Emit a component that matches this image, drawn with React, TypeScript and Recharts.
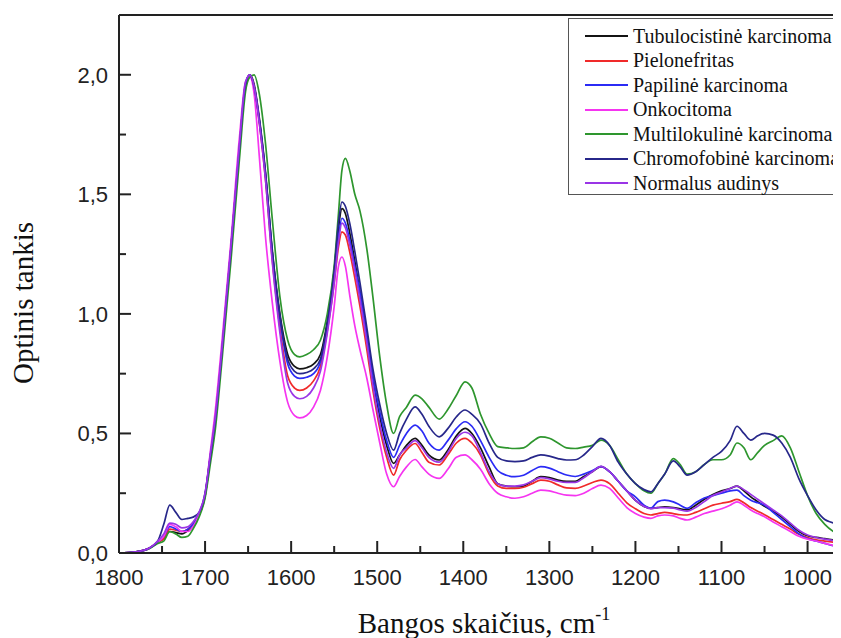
import React from 'react';
import { LineChart, Line, XAxis, YAxis, Legend, ReferenceLine, Label } from 'recharts';

// wavenumber grid, cm-1 (x axis runs from 1800 down to ~960)
const WAVENUMBER = [
  1800, 1780, 1765, 1755, 1748, 1741, 1734, 1727, 1720, 1714,
  1707, 1700, 1694, 1688, 1680, 1670, 1660, 1653, 1648, 1643,
  1637, 1630, 1622, 1613, 1604, 1596, 1590, 1582, 1574, 1566,
  1558, 1550, 1545, 1541, 1537, 1532, 1526, 1520, 1512, 1505,
  1497, 1489, 1481, 1474, 1466, 1456, 1448, 1440, 1428, 1418,
  1408, 1398, 1390, 1380, 1370, 1360, 1350, 1340, 1330, 1320,
  1310, 1300, 1290, 1280, 1270, 1260, 1250, 1240, 1230, 1220,
  1210, 1200, 1190, 1182, 1174, 1166, 1156, 1148, 1140, 1130,
  1120, 1110, 1100, 1090, 1082, 1074, 1066, 1058, 1050, 1040,
  1030, 1020, 1010, 1000, 990, 980, 970, 960,
];

const TUBULOCISTINE = [
  0, 0.005, 0.02, 0.045, 0.06, 0.09, 0.085, 0.08, 0.095, 0.12,
  0.16, 0.24, 0.40, 0.56, 0.86, 1.27, 1.70, 1.96, 2.0, 1.96,
  1.82, 1.60, 1.27, 1.0, 0.83, 0.78, 0.77, 0.775, 0.79, 0.83,
  0.97, 1.18, 1.36, 1.44, 1.42, 1.34, 1.22, 1.09, 0.91, 0.73,
  0.57, 0.45, 0.375, 0.41, 0.45, 0.479, 0.45, 0.41, 0.389, 0.43,
  0.49, 0.521, 0.50, 0.44, 0.36, 0.29, 0.28, 0.277, 0.28, 0.30,
  0.319, 0.315, 0.305, 0.30, 0.30, 0.32, 0.34, 0.361, 0.34, 0.30,
  0.26, 0.22, 0.195, 0.187, 0.19, 0.193, 0.19, 0.185, 0.18, 0.20,
  0.225, 0.245, 0.26, 0.27, 0.28, 0.26, 0.235, 0.215, 0.195, 0.175,
  0.15, 0.12, 0.09, 0.072, 0.065, 0.06, 0.055, 0.05,
];

const PIELONEFRITAS = [
  0, 0.005, 0.02, 0.045, 0.06, 0.10, 0.095, 0.09, 0.10, 0.12,
  0.16, 0.24, 0.40, 0.56, 0.86, 1.27, 1.70, 1.96, 2.0, 1.95,
  1.80, 1.57, 1.23, 0.94, 0.74, 0.69, 0.68, 0.69, 0.72, 0.78,
  0.93, 1.13, 1.28, 1.343, 1.33, 1.26, 1.15, 1.03, 0.85, 0.68,
  0.52, 0.40, 0.326, 0.39, 0.43, 0.458, 0.42, 0.38, 0.368, 0.41,
  0.46, 0.479, 0.46, 0.41, 0.33, 0.28, 0.27, 0.27, 0.275, 0.29,
  0.305, 0.30, 0.285, 0.272, 0.27, 0.28, 0.295, 0.305, 0.29, 0.25,
  0.21, 0.185, 0.165, 0.159, 0.165, 0.17, 0.165, 0.16, 0.159, 0.17,
  0.185, 0.2, 0.208, 0.215, 0.224, 0.21, 0.19, 0.175, 0.16, 0.14,
  0.12, 0.1, 0.078, 0.065, 0.055, 0.05, 0.045, 0.04,
];

const PAPILINE = [
  0, 0.005, 0.02, 0.045, 0.07, 0.11, 0.10, 0.09, 0.10, 0.12,
  0.16, 0.24, 0.40, 0.56, 0.86, 1.27, 1.70, 1.96, 2.0, 1.95,
  1.81, 1.59, 1.26, 0.98, 0.79, 0.74, 0.73, 0.735, 0.75, 0.80,
  0.95, 1.16, 1.32, 1.40, 1.38, 1.31, 1.20, 1.09, 0.91, 0.74,
  0.59, 0.47, 0.40, 0.45, 0.50, 0.535, 0.51, 0.46, 0.43, 0.47,
  0.52, 0.549, 0.53, 0.47, 0.40, 0.345, 0.325, 0.319, 0.325, 0.345,
  0.361, 0.355, 0.34, 0.326, 0.32, 0.33, 0.345, 0.361, 0.34, 0.30,
  0.26, 0.235, 0.20, 0.187, 0.215, 0.221, 0.214, 0.20, 0.187, 0.21,
  0.23, 0.24, 0.25, 0.26, 0.263, 0.24, 0.221, 0.21, 0.20, 0.17,
  0.14, 0.11, 0.08, 0.06, 0.05, 0.04, 0.03, 0.025,
];

const ONKOCITOMA = [
  0, 0.005, 0.02, 0.045, 0.07, 0.12, 0.11, 0.09, 0.09, 0.11,
  0.16, 0.24, 0.42, 0.60, 0.90, 1.30, 1.74, 1.97, 1.99, 1.92,
  1.66, 1.33, 1.05, 0.80, 0.63, 0.575, 0.565, 0.575, 0.61, 0.68,
  0.82, 1.03, 1.20, 1.238, 1.20, 1.08, 0.95, 0.85, 0.73, 0.60,
  0.46, 0.33, 0.277, 0.32, 0.36, 0.391, 0.36, 0.33, 0.312, 0.35,
  0.40, 0.41, 0.39, 0.35, 0.29, 0.25, 0.235, 0.229, 0.235, 0.25,
  0.263, 0.26, 0.25, 0.242, 0.24, 0.25, 0.27, 0.284, 0.27, 0.23,
  0.19, 0.165, 0.15, 0.145, 0.155, 0.159, 0.155, 0.145, 0.138, 0.15,
  0.165, 0.175, 0.185, 0.2, 0.214, 0.2, 0.18, 0.165, 0.152, 0.13,
  0.11, 0.09, 0.07, 0.058, 0.05, 0.04, 0.032, 0.026,
];

const MULTILOKULINE = [
  0, 0.005, 0.018, 0.04, 0.05, 0.09, 0.08, 0.065, 0.07, 0.10,
  0.15, 0.23, 0.37, 0.52, 0.82, 1.22, 1.65, 1.93, 1.99, 2.0,
  1.92, 1.72, 1.40, 1.07, 0.89, 0.83, 0.82, 0.83, 0.85, 0.89,
  1.0, 1.2, 1.42, 1.60, 1.65, 1.60, 1.50, 1.43, 1.27, 1.07,
  0.82, 0.62, 0.50, 0.57, 0.61, 0.66, 0.645, 0.61, 0.56, 0.60,
  0.66, 0.716, 0.69, 0.58, 0.50, 0.445, 0.44, 0.437, 0.44, 0.465,
  0.486, 0.48, 0.46, 0.44, 0.437, 0.443, 0.45, 0.472, 0.45, 0.39,
  0.33, 0.29, 0.26, 0.25, 0.29, 0.33, 0.395, 0.37, 0.33, 0.34,
  0.37, 0.39, 0.39, 0.41, 0.46, 0.44, 0.39, 0.42, 0.45, 0.47,
  0.49, 0.44, 0.34, 0.24, 0.165, 0.12, 0.09, 0.075,
];

const CHROMOFOBINE = [
  0, 0.005, 0.02, 0.05, 0.12, 0.20, 0.17, 0.14, 0.145, 0.15,
  0.17, 0.25, 0.40, 0.56, 0.86, 1.27, 1.70, 1.96, 2.0, 1.95,
  1.81, 1.59, 1.26, 0.99, 0.81, 0.76, 0.75, 0.755, 0.77, 0.81,
  0.96, 1.18, 1.38, 1.468, 1.45, 1.38, 1.26, 1.13, 0.94, 0.77,
  0.62, 0.50, 0.43, 0.50, 0.56, 0.611, 0.58, 0.53, 0.486, 0.52,
  0.57, 0.598, 0.58, 0.54, 0.46, 0.40, 0.385, 0.382, 0.385, 0.40,
  0.41, 0.405, 0.395, 0.389, 0.39, 0.41, 0.445, 0.479, 0.45, 0.38,
  0.33, 0.29, 0.265, 0.256, 0.29, 0.33, 0.385, 0.36, 0.326, 0.34,
  0.37, 0.40, 0.425, 0.47, 0.53, 0.50, 0.472, 0.49, 0.50, 0.493,
  0.46, 0.40, 0.31, 0.24, 0.18, 0.14, 0.125, 0.10,
];

const NORMALUS = [
  0, 0.005, 0.02, 0.05, 0.08, 0.125, 0.12, 0.105, 0.11, 0.13,
  0.17, 0.25, 0.41, 0.57, 0.87, 1.28, 1.71, 1.97, 2.0, 1.95,
  1.80, 1.57, 1.22, 0.92, 0.71, 0.655, 0.645, 0.655, 0.69, 0.76,
  0.92, 1.13, 1.30, 1.38, 1.36, 1.29, 1.18, 1.06, 0.88, 0.70,
  0.54, 0.42, 0.354, 0.41, 0.44, 0.47, 0.44, 0.40, 0.38, 0.42,
  0.48, 0.505, 0.49, 0.42, 0.34, 0.29, 0.28, 0.28, 0.285, 0.30,
  0.315, 0.31, 0.30, 0.295, 0.295, 0.315, 0.34, 0.362, 0.34, 0.30,
  0.26, 0.22, 0.195, 0.185, 0.19, 0.19, 0.188, 0.18, 0.175, 0.19,
  0.215, 0.24, 0.255, 0.27, 0.28, 0.265, 0.245, 0.225, 0.205, 0.18,
  0.155, 0.125, 0.095, 0.075, 0.065, 0.058, 0.052, 0.045,
];

const SERIES = [
  { key: 'tubulo', name: 'Tubulocistinė karcinoma', color: '#141414', values: TUBULOCISTINE },
  { key: 'pielo', name: 'Pielonefritas', color: '#f02a2a', values: PIELONEFRITAS },
  { key: 'papil', name: 'Papilinė karcinoma', color: '#2b2bf5', values: PAPILINE },
  { key: 'onko', name: 'Onkocitoma', color: '#f535f0', values: ONKOCITOMA },
  { key: 'multi', name: 'Multilokulinė karcinoma', color: '#2e962e', values: MULTILOKULINE },
  { key: 'chromo', name: 'Chromofobinė karcinoma', color: '#27278a', values: CHROMOFOBINE },
  { key: 'norm', name: 'Normalus audinys', color: '#9a35e6', values: NORMALUS },
];

const X_TICKS = [1800, 1750, 1700, 1650, 1600, 1550, 1500, 1450, 1400, 1350, 1300, 1250, 1200, 1150, 1100, 1050, 1000];
const Y_TICKS = [0, 0.25, 0.5, 0.75, 1.0, 1.25, 1.5, 1.75, 2.0];

const data = WAVENUMBER.map((w, i) => {
  const row: any = { w };
  SERIES.forEach(s => { row[s.key] = s.values[i]; });
  return row;
});

const AXIS = '#222';
const SANS = '"Liberation Sans", Arial, sans-serif';
const SERIF = '"Liberation Serif", "Times New Roman", serif';

// ticks point into the plot; minor ticks are unlabeled
function XTick({ x, y, payload }: any) {
  const major = payload.value % 100 === 0;
  return (
    <g>
      <line x1={x} y1={y} x2={x} y2={y - (major ? 12 : 7)} stroke={AXIS} strokeWidth={2} />
      {major && (
        <text x={x} y={y + 32} textAnchor="middle" fontSize={22} fontFamily={SANS} fill={AXIS}>
          {payload.value}
        </text>
      )}
    </g>
  );
}

function YTick({ x, y, payload }: any) {
  const major = Math.abs(payload.value * 2 - Math.round(payload.value * 2)) < 1e-6;
  return (
    <g>
      <line x1={x} y1={y} x2={x + (major ? 12 : 7)} y2={y} stroke={AXIS} strokeWidth={2} />
      {major && (
        <text x={x - 11} y={y + 8} textAnchor="end" fontSize={22} fontFamily={SANS} fill={AXIS}>
          {payload.value.toFixed(1).replace('.', ',')}
        </text>
      )}
    </g>
  );
}

// legend keeps the series order (the default sorter would alphabetize it)
function LegendBox() {
  return (
    <div style={{ border: '1px solid #555', background: '#fff', width: 280, height: 177, paddingTop: 5, boxSizing: 'border-box' }}>
      {SERIES.map(s => (
        <div key={s.key} style={{ display: 'flex', alignItems: 'center', height: 24.5 }}>
          <div style={{ width: 43, height: 2, marginLeft: 16, background: s.color }} />
          <span style={{ marginLeft: 5, fontFamily: SERIF, fontSize: 20, color: '#111', whiteSpace: 'nowrap' }}>{s.name}</span>
        </div>
      ))}
    </div>
  );
}

export default function App() {
  return (
    <div style={{ width: 833, height: 630, overflow: 'hidden', background: '#fff' }}>
      <LineChart width={835} height={630} data={data} margin={{ top: 7, right: 1, bottom: 0, left: 0 }}>
        <XAxis
          dataKey="w"
          type="number"
          domain={[960, 1800]}
          reversed
          ticks={X_TICKS}
          interval={0}
          height={85}
          tickSize={0}
          tickMargin={0}
          tickLine={false}
          tick={<XTick />}
          axisLine={{ stroke: AXIS, strokeWidth: 2 }}
          allowDataOverflow
        >
          <Label
            content={() => (
              <text x={476} y={625} textAnchor="middle" fontFamily={SERIF} fontSize={29} fill="#111">
                Bangos skaičius, cm
                <tspan dy={-13} fontSize={18}>-1</tspan>
              </text>
            )}
          />
        </XAxis>
        <YAxis
          type="number"
          domain={[0, 2.25]}
          ticks={Y_TICKS}
          interval={0}
          width={111}
          tickSize={0}
          tickMargin={0}
          tickLine={false}
          tick={<YTick />}
          axisLine={{ stroke: AXIS, strokeWidth: 2 }}
          allowDataOverflow
        >
          <Label
            content={() => (
              <text
                x={25}
                y={295}
                transform="rotate(-90 25 295)"
                textAnchor="middle"
                fontFamily={SERIF}
                fontSize={29}
                fill="#111"
              >
                Optinis tankis
              </text>
            )}
          />
        </YAxis>
        <ReferenceLine y={2.25} stroke={AXIS} strokeWidth={2} />
        <Legend
          layout="horizontal"
          verticalAlign="middle"
          align="center"
          content={<LegendBox />}
          wrapperStyle={{ top: 10, left: 560, width: 290, height: 180 }}
        />
        {SERIES.map(s => (
          <Line
            key={s.key}
            dataKey={s.key}
            name={s.name}
            type="monotone"
            stroke={s.color}
            strokeWidth={1.7}
            dot={false}
            isAnimationActive={false}
          />
        ))}
      </LineChart>
    </div>
  );
}
